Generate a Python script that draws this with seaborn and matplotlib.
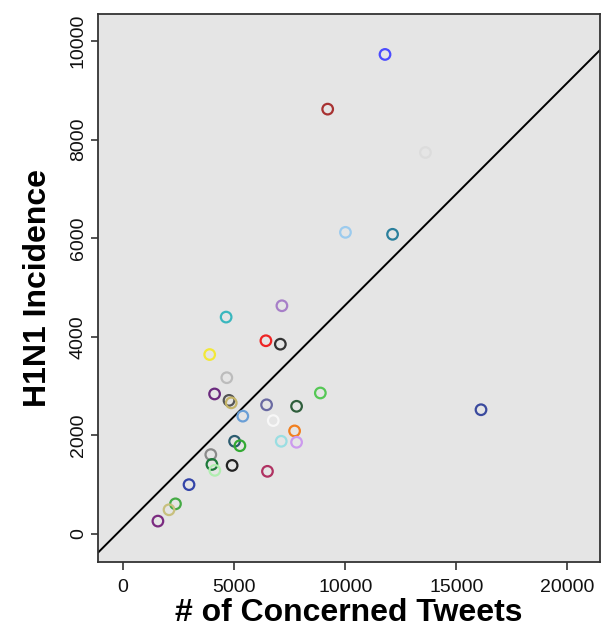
import pandas as pd
import seaborn as sns
import matplotlib.pyplot as plt

# concerned tweets vs H1N1 incidence, one point per region
tweets = [11790, 9210, 13610, 10010, 12130, 16110,
          7150, 4640, 6430, 7080, 3900, 4670, 4120, 4770, 4870,
          6460, 7810, 8880, 5390, 6760, 7720, 7120, 7810,
          5020, 5260, 3950, 4000, 4130, 4910, 6500, 2970, 2360, 2070, 1570]
incidence = [9730, 8620, 7740, 6120, 6080, 2520,
             4630, 4400, 3920, 3850, 3640, 3170, 2840, 2710, 2660,
             2620, 2590, 2860, 2390, 2300, 2090, 1880, 1860,
             1880, 1790, 1610, 1410, 1290, 1390, 1270, 1000, 610, 490, 260]
colors = ['#4b4bff', '#a83232', '#dcdcdc', '#9ccbee', '#2a7f9c', '#3a4a9e',
          '#a77fc8', '#3ab7be', '#ee2424', '#333333', '#f2e838', '#bcbcbc', '#6b2a7e', '#555555', '#c4b468',
          '#6a6aa2', '#2f5e3c', '#55c855', '#6a9fd6', '#f7f7f7', '#f27f1e', '#9adee2', '#cc9aee',
          '#2c5c70', '#33aa33', '#8a8a8a', '#1d7a3a', '#b0eeb0', '#222222', '#b03262', '#3344a8', '#44aa44', '#c8c07e', '#7a2a80']

df = pd.DataFrame({'tweets': tweets, 'incidence': incidence})
df['region'] = range(len(df))

sns.set_style('white')
plt.rcParams['font.family'] = ['Liberation Sans', 'DejaVu Sans']

fig = plt.figure(figsize=(6.1, 6.29), dpi=100)
ax = fig.add_axes([0.1607, 0.1065, 0.8229, 0.8712])
ax.set_facecolor('#e5e5e5')
ax.set_xlim(-1125, 21465)
ax.set_ylim(-570, 10550)

sns.scatterplot(data=df, x='tweets', y='incidence', hue='region', palette=colors,
                legend=False, s=58, ax=ax, zorder=3)
pts = ax.collections[0]
pts.set_edgecolors(pts.get_facecolors())
pts.set_facecolors('none')
pts.set_linewidths(1.6)

sns.regplot(data=df, x='tweets', y='incidence', scatter=False, ci=None, truncate=False,
            color='black', line_kws={'linewidth': 1.4}, ax=ax)

ax.set_xticks([0, 5000, 10000, 15000, 20000])
ax.set_yticks([0, 2000, 4000, 6000, 8000, 10000])
ax.tick_params(axis='both', bottom=True, left=True, direction='out', width=1.2,
               color='#333333', labelcolor='#111111', labelsize=14)
ax.tick_params(axis='x', length=6, pad=6)
ax.tick_params(axis='y', length=5, pad=3)
plt.setp(ax.get_yticklabels(), rotation=90, va='center')
for sp in ax.spines.values():
    sp.set_color('#333333')
    sp.set_linewidth(1.3)

ax.set_xlabel('# of Concerned Tweets', fontsize=23, fontweight='bold', color='black', labelpad=1.5)
ax.set_ylabel('H1N1 Incidence', fontsize=23, fontweight='bold', color='black', labelpad=12)

fig.savefig('out.png', dpi=100)
